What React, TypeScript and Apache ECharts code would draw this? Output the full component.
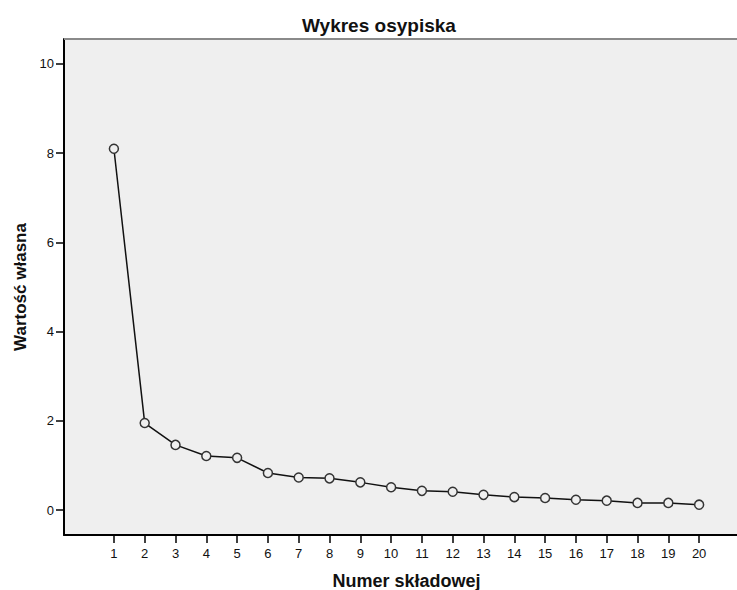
import React, { useEffect, useRef } from "react";
import * as echarts from "echarts";

const components = [1, 2, 3, 4, 5, 6, 7, 8, 9, 10, 11, 12, 13, 14, 15, 16, 17, 18, 19, 20];
const eigenvalues = [8.1, 1.95, 1.46, 1.21, 1.17, 0.83, 0.73, 0.71, 0.62, 0.51, 0.43, 0.41, 0.34, 0.29, 0.27, 0.23, 0.21, 0.16, 0.16, 0.12];
const yTicks = [0, 2, 4, 6, 8, 10];

const FONT = "Liberation Sans, Arial, sans-serif";

export default function App() {
  const ref = useRef<HTMLDivElement>(null);
  useEffect(() => {
    const chart = echarts.init(ref.current!, null, { renderer: "svg" });
    chart.setOption({
      animation: false,
      backgroundColor: "#ffffff",
      title: {
        text: "Wykres osypiska",
        left: 297,
        top: 11,
        textStyle: { fontFamily: FONT, fontSize: 19, fontWeight: "bold", color: "#111" },
      },
      grid: {
        left: 64,
        right: 0,
        top: 39,
        bottom: 55,
        show: true,
        backgroundColor: "#efefef",
        borderWidth: 0,
        outerBoundsMode: "none",
        containLabel: false,
      },
      graphic: [
        {
          type: "line",
          shape: { x1: 64, y1: 39, x2: 737, y2: 39 },
          style: { stroke: "#8a8a8a", lineWidth: 2 },
          z: 10,
        },
      ],
      xAxis: {
        type: "value",
        min: -0.62,
        max: 21.23,
        name: "Numer składowej",
        nameLocation: "middle",
        nameGap: 37,
        nameTextStyle: { fontFamily: FONT, fontSize: 18, fontWeight: "bold", color: "#111", padding: [0, 0, 0, 12] },
        axisLine: { show: true, onZero: false, lineStyle: { color: "#000", width: 2 } },
        axisTick: { show: true, length: 8, customValues: components, lineStyle: { color: "#000", width: 1.5 } },
        axisLabel: {
          customValues: components,
          margin: 12,
          fontFamily: FONT,
          fontSize: 13,
          color: "#111",
        },
        splitLine: { show: false },
      },
      yAxis: {
        type: "value",
        min: -0.56,
        max: 10.56,
        name: "Wartość własna",
        nameLocation: "middle",
        nameGap: 35,
        nameRotate: 90,
        nameTextStyle: { fontFamily: FONT, fontSize: 17, fontWeight: "bold", color: "#111" },
        axisLine: { show: true, onZero: false, lineStyle: { color: "#000", width: 2 } },
        axisTick: { show: true, length: 8, customValues: yTicks, lineStyle: { color: "#000", width: 1.5 } },
        axisLabel: {
          customValues: yTicks,
          margin: 10,
          fontFamily: FONT,
          fontSize: 13,
          color: "#111",
        },
        splitLine: { show: false },
      },
      series: [
        {
          type: "line",
          data: components.map((c, i) => [c, eigenvalues[i]]),
          symbol: "circle",
          symbolSize: 9,
          showAllSymbol: true,
          lineStyle: { color: "#111", width: 1.5 },
          itemStyle: { color: "#efefef", borderColor: "#333", borderWidth: 1.5 },
          z: 5,
        },
      ],
    });
    return () => chart.dispose();
  }, []);
  return (
    <div
      ref={ref}
      style={{ position: "absolute", left: 0, top: 0, width: 737, height: 590 }}
    />
  );
}
